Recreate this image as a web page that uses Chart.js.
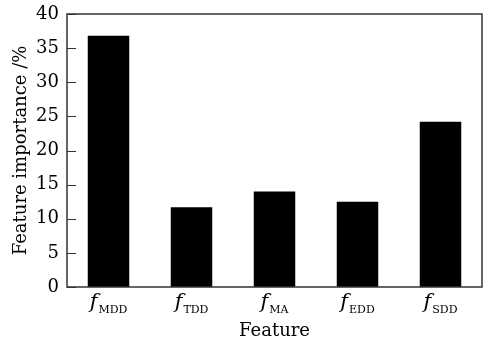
<!DOCTYPE html>
<html>
<head>
<meta charset="utf-8">
<script src="https://cdn.jsdelivr.net/npm/chart.js@4"></script>
<style>
  html, body { margin: 0; padding: 0; background: #fff; }
  #wrap { width: 484px; height: 344px; }
</style>
</head>
<body>
<div id="wrap"><canvas id="chart"></canvas></div>
<script>
'use strict';

// Feature names: italic f + subscript
const featureBase = ['f', 'f', 'f', 'f', 'f'];
const featureSub = ['MDD', 'TDD', 'MA', 'EDD', 'SDD'];
// Importance values (%)
const importance = [36.8, 11.7, 14.0, 12.5, 24.2];
const yTicks = [0, 5, 10, 15, 20, 25, 30, 35, 40];

const serif = '"DejaVu Serif", "Liberation Serif", serif';
const axisColor = '#333';

// Draws the box around the plot, inward y ticks and the subscripted x labels
const decorPlugin = {
    id: 'decor',
    afterDraw(chart) {
        const ctx = chart.ctx;
        const area = chart.chartArea;
        const xScale = chart.scales.x;
        const yScale = chart.scales.y;
        ctx.save();
        ctx.strokeStyle = axisColor;
        ctx.lineWidth = 1.5;
        ctx.strokeRect(area.left, area.top, area.right - area.left, area.bottom - area.top);

        // inward ticks on the left axis
        ctx.beginPath();
        yTicks.forEach(v => {
            const y = Math.round(yScale.getPixelForValue(v)) + 0.5;
            ctx.moveTo(area.left, y);
            ctx.lineTo(area.left + 9, y);
        });
        ctx.lineWidth = 1;
        ctx.stroke();

        // x labels: f with a subscript
        ctx.fillStyle = '#000';
        ctx.textBaseline = 'alphabetic';
        ctx.textAlign = 'left';
        featureSub.forEach((sub, i) => {
            const cx = xScale.getPixelForTick(i);
            ctx.font = 'italic 21px ' + serif;
            const wBase = ctx.measureText(featureBase[i]).width;
            ctx.font = '11px ' + serif;
            const wSub = ctx.measureText(sub).width;
            const start = cx - (wBase + 1 + wSub) / 2;
            ctx.font = 'italic 21px ' + serif;
            ctx.fillText(featureBase[i], start, 308);
            ctx.font = '11px ' + serif;
            ctx.fillText(sub, start + wBase + 1, 313);
        });
        ctx.restore();
    }
};

const ctx = document.getElementById('chart').getContext('2d');
const importanceChart = new Chart(ctx, {
    type: 'bar',
    data: {
        labels: featureSub,
        datasets: [{
            label: 'Feature importance',
            data: importance,
            backgroundColor: '#000',
            borderWidth: 0,
            barPercentage: 0.5,
            categoryPercentage: 1.0
        }]
    },
    options: {
        responsive: true,
        maintainAspectRatio: false,
        animation: false,
        layout: { padding: { top: 0, right: 2, left: 0, bottom: 0 } },
        plugins: {
            legend: { display: false },
            tooltip: { enabled: false }
        },
        scales: {
            x: {
                grid: { display: false, drawTicks: false },
                border: { display: false },
                ticks: { color: 'rgba(0,0,0,0)', font: { family: serif, size: 18 } },
                title: {
                    display: true,
                    text: 'Feature',
                    color: '#000',
                    font: { family: serif, size: 18 },
                    padding: { top: 0, bottom: 2 }
                },
                afterFit(scale) { scale.height = 57; }
            },
            y: {
                min: 0,
                max: 40,
                grid: { display: false, drawTicks: false },
                border: { display: false },
                afterBuildTicks(scale) { scale.ticks = yTicks.map(v => ({ value: v })); },
                ticks: {
                    color: '#000',
                    padding: 8,
                    font: { family: serif, size: 18 }
                },
                title: {
                    display: true,
                    text: 'Feature importance /%',
                    color: '#000',
                    font: { family: serif, size: 18 },
                    padding: { top: 11, bottom: 0 }
                },
                afterFit(scale) {
                    scale.width = 67;
                    scale.paddingTop = 14;
                    scale.paddingBottom = 0;
                }
            }
        }
    },
    plugins: [decorPlugin]
});
</script>
</body>
</html>
